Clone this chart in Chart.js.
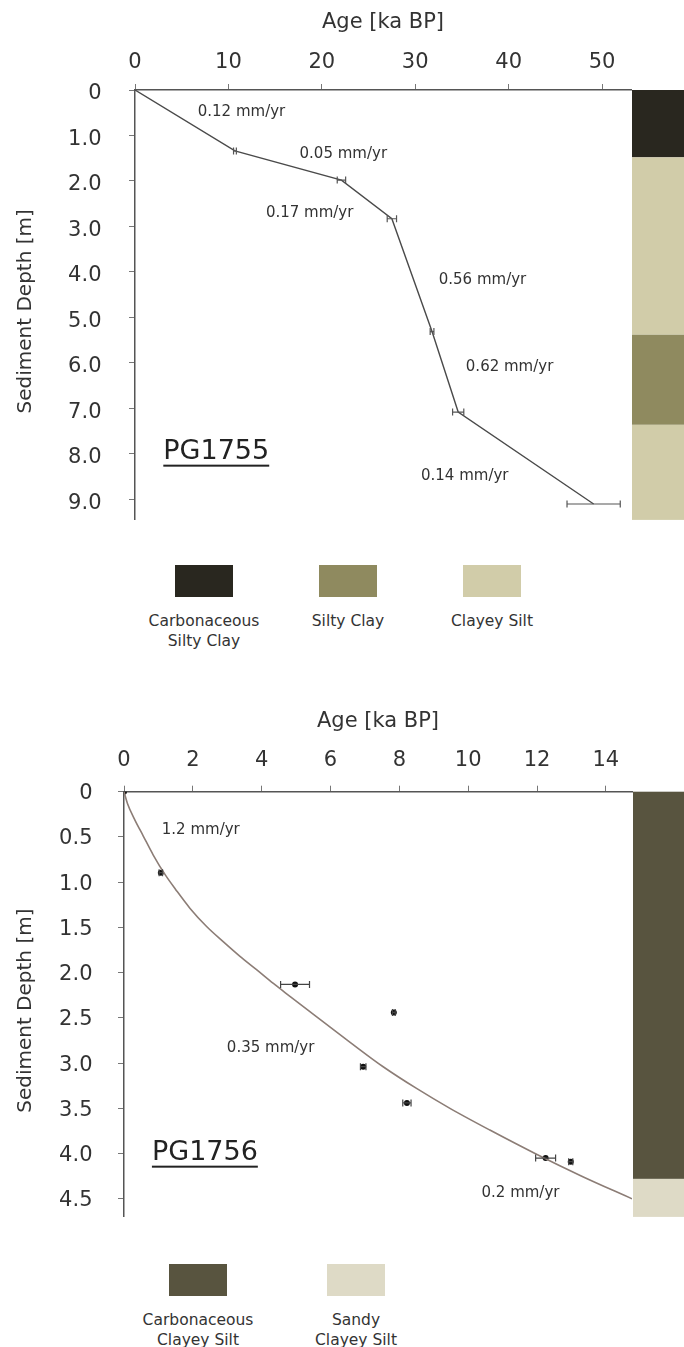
<!DOCTYPE html>
<html>
<head>
<meta charset="utf-8">
<script src="https://cdn.jsdelivr.net/npm/chart.js@4.4.1/dist/chart.umd.min.js"></script>
<style>
  body { margin: 0; background: #fff; }
  #page { position: relative; width: 684px; height: 1347px; overflow: hidden; background: #fff; font-family: 'DejaVu Sans', sans-serif; color: #333; }
  canvas { position: absolute; left: 0; }
  .sw { position: absolute; height: 32px; width: 58px; }
  .lab { position: absolute; width: 140px; margin-left: -70px; text-align: center; font-size: 15.5px; line-height: 20px; white-space: pre; }
</style>
</head>
<body>
<div id="page">
  <canvas id="c1755" width="684" height="560" style="top:0"></canvas>
  <canvas id="c1756" width="684" height="575" style="top:680px"></canvas>
  <div id="legend1755"></div>
  <div id="legend1756"></div>
</div>
<script>
// Kern PG1755 - yaş/derinlik noktaları
const ageTicks1755 = [0, 10, 20, 30, 40, 50];
const depthTicks1755 = [0, 1, 2, 3, 4, 5, 6, 7, 8, 9];
const age1755 = [0, 10.7, 22.1, 27.5, 31.8, 34.6, 49.1];
const depth1755 = [0, 1.34, 1.98, 2.83, 5.31, 7.08, 9.10];
const ageErr1755 = [0, 0.15, 0.45, 0.5, 0.2, 0.6, 2.85];
const rateText1755 = ['0.12 mm/yr', '0.05 mm/yr', '0.17 mm/yr', '0.56 mm/yr', '0.62 mm/yr', '0.14 mm/yr'];
const rateAge1755 = [11.4, 22.3, 18.7, 37.2, 40.1, 35.3];
const rateDepth1755 = [0.48, 1.40, 2.71, 4.17, 6.10, 8.48];
const layerTop1755 = [0, 1.48, 5.38, 7.36];
const layerBase1755 = [1.48, 5.38, 7.36, 9.45];
const layerType1755 = ['Carbonaceous Silty Clay', 'Clayey Silt', 'Silty Clay', 'Clayey Silt'];
const legend1755 = ['Carbonaceous Silty Clay', 'Silty Clay', 'Clayey Silt'];

// Kern PG1756 - tarihlenmiş noktalar ve uydurulmuş eğri
const ageTicks1756 = [0, 2, 4, 6, 8, 10, 12, 14];
const depthTicks1756 = [0, 0.5, 1, 1.5, 2, 2.5, 3, 3.5, 4, 4.5];
const age1756 = [0, 1.07, 4.97, 7.84, 6.95, 8.22, 12.25, 12.98];
const depth1756 = [0, 0.895, 2.13, 2.44, 3.04, 3.44, 4.05, 4.09];
const ageErr1756 = [0, 0.05, 0.42, 0.04, 0.08, 0.12, 0.29, 0.06];
const curveAge1756 = [0, 0.1, 0.3, 0.56, 0.85, 1.2, 1.5, 1.92, 2.4, 2.89, 3.37, 3.86, 4.34, 4.85, 5.6, 6.57, 7.53, 8.5, 9.47, 10.63, 12.0, 13.3, 14.76];
const curveDepth1756 = [0, 0.13, 0.30, 0.49, 0.70, 0.92, 1.08, 1.29, 1.49, 1.66, 1.82, 1.97, 2.12, 2.27, 2.49, 2.77, 3.04, 3.28, 3.50, 3.74, 4.01, 4.25, 4.50];
const rateText1756 = ['1.2 mm/yr', '0.35 mm/yr', '0.2 mm/yr'];
const rateAge1756 = [2.23, 4.26, 11.52];
const rateDepth1756 = [0.43, 2.83, 4.44];
const layerTop1756 = [0, 4.28];
const layerBase1756 = [4.28, 4.70];
const layerType1756 = ['Carbonaceous Clayey Silt', 'Sandy Clayey Silt'];
const legend1756 = ['Carbonaceous Clayey Silt', 'Sandy Clayey Silt'];

// Litoloji renkleri
const litColors = {
    'Carbonaceous Silty Clay': '#29271f',
    'Silty Clay': '#8f8a5f',
    'Clayey Silt': '#d1cca9',
    'Carbonaceous Clayey Silt': '#58543f',
    'Sandy Clayey Silt': '#dedac6'
};

Chart.defaults.font.family = "'DejaVu Sans', sans-serif";
Chart.defaults.color = '#333';

// Yatay hata çubukları
const errorBars = {
    id: 'errorBars',
    afterDatasetsDraw(chart, args, opts) {
        const { ctx, scales: { x, y } } = chart;
        ctx.save();
        ctx.strokeStyle = opts.color;
        ctx.lineWidth = 1.2;
        opts.ages.forEach((a, i) => {
            const e = opts.errors[i];
            if (!e) return;
            const py = y.getPixelForValue(opts.depths[i]);
            const x0 = x.getPixelForValue(a - e);
            const x1 = x.getPixelForValue(a + e);
            ctx.beginPath();
            ctx.moveTo(x0, py); ctx.lineTo(x1, py);
            ctx.moveTo(x0, py - 3.5); ctx.lineTo(x0, py + 3.5);
            ctx.moveTo(x1, py - 3.5); ctx.lineTo(x1, py + 3.5);
            ctx.stroke();
        });
        ctx.restore();
    }
};

// Sağdaki litoloji sütunu
const lithColumn = {
    id: 'lithColumn',
    afterDraw(chart, args, opts) {
        const { ctx, chartArea, scales: { y } } = chart;
        ctx.save();
        opts.tops.forEach((t, i) => {
            const y0 = y.getPixelForValue(t);
            const y1 = y.getPixelForValue(opts.bases[i]);
            ctx.fillStyle = litColors[opts.types[i]];
            ctx.fillRect(chartArea.right + 1, y0, chart.width - chartArea.right, y1 - y0);
        });
        ctx.restore();
    }
};

// Sedimantasyon hızı etiketleri ve kern adı
const notes = {
    id: 'notes',
    afterDraw(chart, args, opts) {
        const { ctx, scales: { x, y } } = chart;
        ctx.save();
        ctx.fillStyle = '#333';
        ctx.textAlign = 'center';
        ctx.textBaseline = 'middle';
        ctx.font = "15px 'DejaVu Sans'";
        opts.texts.forEach((t, i) => {
            ctx.fillText(t, x.getPixelForValue(opts.ages[i]), y.getPixelForValue(opts.depths[i]));
        });
        ctx.font = "27px 'DejaVu Sans'";
        ctx.fillStyle = '#222';
        const cx = x.getPixelForValue(opts.core.age);
        const cy = y.getPixelForValue(opts.core.depth);
        ctx.fillText(opts.core.name, cx, cy);
        const w = ctx.measureText(opts.core.name).width;
        ctx.fillRect(cx - w / 2, cy + 13, w, 2);
        ctx.restore();
    }
};

function makeChart(id, cfg) {
    const tickFont = { size: 21 };
    return new Chart(document.getElementById(id), {
        type: 'scatter',
        data: { datasets: cfg.datasets },
        options: {
            responsive: false,
            animation: false,
            layout: { padding: { top: 0, right: cfg.padRight, bottom: cfg.padBottom, left: 0 } },
            plugins: {
                legend: { display: false },
                tooltip: { enabled: false },
                errorBars: cfg.errorBars,
                lithColumn: cfg.column,
                notes: cfg.notes
            },
            scales: {
                x: {
                    type: 'linear',
                    position: 'top',
                    min: 0,
                    max: cfg.xMax,
                    afterBuildTicks: s => { s.ticks = cfg.xTicks.map(v => ({ value: v })); },
                    afterFit: s => { s.height = cfg.xHeight; },
                    grid: { drawOnChartArea: false, tickLength: 6, color: '#777' },
                    border: { color: '#555', width: 1.5 },
                    ticks: { font: tickFont, color: '#333', padding: cfg.xTickPad, callback: v => String(v) },
                    title: { display: true, text: 'Age [ka BP]', font: { size: 21 }, color: '#333', padding: { top: cfg.xTitlePad, bottom: 0 } }
                },
                y: {
                    type: 'linear',
                    position: 'left',
                    reverse: true,
                    min: 0,
                    max: cfg.yMax,
                    afterBuildTicks: s => { s.ticks = cfg.yTicks.map(v => ({ value: v })); },
                    afterFit: s => { s.width = cfg.yWidth; },
                    grid: { drawOnChartArea: false, tickLength: 6, color: '#777' },
                    border: { color: '#555', width: 1.5 },
                    ticks: { font: tickFont, color: '#333', padding: cfg.yTickPad, labelOffset: cfg.yLabelOffset, callback: v => v === 0 ? '0' : v.toFixed(1) },
                    // iki boşluk başlığı biraz aşağı kaydırır
                    title: { display: true, text: 'Sediment Depth [m]  ', font: { size: 20 }, color: '#333', padding: { top: 14, bottom: 0 } }
                }
            }
        },
        plugins: [lithColumn, errorBars, notes]
    });
}

// PG1755
makeChart('c1755', {
    datasets: [{
        data: age1755.map((a, i) => ({ x: a, y: depth1755[i] })),
        showLine: true,
        borderColor: '#4a4a4a',
        borderWidth: 1.4,
        pointRadius: 0,
        tension: 0
    }],
    xMax: 53.1, yMax: 9.45, xTicks: ageTicks1755, yTicks: depthTicks1755,
    xHeight: 90, yWidth: 135, padRight: 53, padBottom: 10,
    xTickPad: 9, xTitlePad: 10, yTickPad: 27.5, yLabelOffset: 4,
    errorBars: { ages: age1755, depths: depth1755, errors: ageErr1755, color: '#555' },
    column: { tops: layerTop1755, bases: layerBase1755, types: layerType1755 },
    notes: { texts: rateText1755, ages: rateAge1755, depths: rateDepth1755, core: { name: 'PG1755', age: 8.7, depth: 7.95 } }
});

// PG1756
makeChart('c1756', {
    datasets: [{
        data: curveAge1756.map((a, i) => ({ x: a, y: curveDepth1756[i] })),
        showLine: true,
        borderColor: '#8c7d76',
        borderWidth: 1.6,
        pointRadius: 0,
        cubicInterpolationMode: 'monotone'
    }, {
        data: age1756.map((a, i) => ({ x: a, y: depth1756[i] })),
        showLine: false,
        pointRadius: 3,
        pointBackgroundColor: '#111',
        pointBorderColor: '#111',
        borderWidth: 0
    }],
    xMax: 14.76, yMax: 4.70, xTicks: ageTicks1756, yTicks: depthTicks1756,
    xHeight: 111.7, yWidth: 124, padRight: 52, padBottom: 5,
    xTickPad: 13, xTitlePad: 29, yTickPad: 25.5, yLabelOffset: 2,
    errorBars: { ages: age1756, depths: depth1756, errors: ageErr1756, color: '#444' },
    column: { tops: layerTop1756, bases: layerBase1756, types: layerType1756 },
    notes: { texts: rateText1756, ages: rateAge1756, depths: rateDepth1756, core: { name: 'PG1756', age: 2.35, depth: 3.99 } }
});

// Lejantlar (HTML)
function buildLegend(elId, names, swX, swTop, labTop) {
    const box = document.getElementById(elId);
    box.innerHTML = names.map((n, i) => {
        const text = n.startsWith('Carbonaceous') ? n.replace('Carbonaceous ', 'Carbonaceous\n')
            : n.startsWith('Sandy') ? n.replace('Sandy ', 'Sandy\n') : n;
        return `<div class="sw" style="left:${swX[i]}px;top:${swTop}px;background:${litColors[n]}"></div>
                <div class="lab" style="left:${swX[i] + 29}px;top:${labTop}px">${text}</div>`;
    }).join('');
}
buildLegend('legend1755', legend1755, [175, 319, 463], 565, 611);
buildLegend('legend1756', legend1756, [169, 327], 1264, 1310);
</script>
</body>
</html>
